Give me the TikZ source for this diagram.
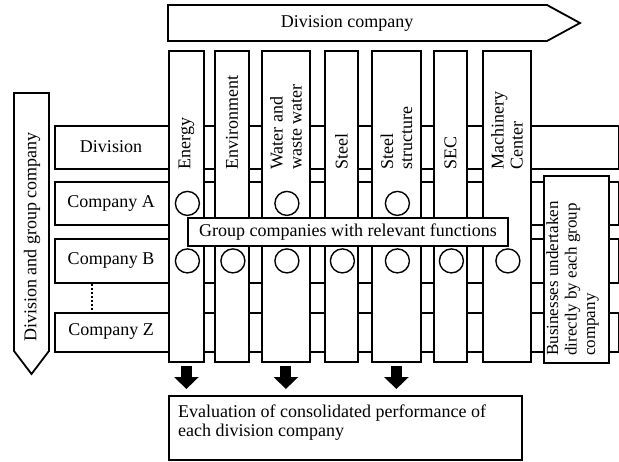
\documentclass[tikz,border=0pt]{standalone}
\usepackage{fontspec}
\setmainfont{Liberation Serif}
\usetikzlibrary{arrows.meta,calc}
\begin{document}
\begin{tikzpicture}[x=1pt,y=-1pt,
  lw/.style={line width=1.8pt},
  box/.style={draw, lw, fill=white, inner sep=0pt, rectangle},
  txt/.style={font=\fontsize{18}{19}\selectfont, inner sep=0pt, align=left},
  colbox/.style={box, anchor=north west, minimum height=311pt},
  rowbox/.style={box, anchor=north west, minimum width=564pt},
  coltxt/.style={txt, rotate=90, anchor=west},
  circ/.style={draw, circle, line width=1.4pt, minimum size=24pt, inner sep=0pt, fill=white},
  blockarrow/.style={line width=11pt, -{Triangle[width=24pt, length=12pt]}}
]
\useasboundingbox (0,0) rectangle (619,461);

% top arrow
\draw[lw, fill=white] (168,5) -- (547,5) -- (580,23) -- (547,41) -- (168,41) -- cycle;
\node[txt] (dc) at (347,23) {Division company};

% left arrow
\draw[lw, fill=white] (14,93) -- (49,93) -- (49,351) -- (31.5,374) -- (14,351) -- cycle;
\node[txt, rotate=90] (dg) at (32,237) {Division and group company};

% rows
\node[rowbox, minimum height=43pt] (rdiv) at (54,125) {};
\node[rowbox, minimum height=43pt] (rA) at (54,181) {};
\node[rowbox, minimum height=44pt] (rB) at (54,238) {};
\node[rowbox, minimum height=39pt] (rZ) at (54,312) {};
\node[txt] (tdiv) at (111,147) {Division};
\node[txt] (tA) at (111,203) {Company A};
\node[txt] (tB) at (111,260) {Company B};
\node[txt] (tZ) at (111,331.5) {Company Z};
\draw[line width=2pt, dash pattern=on 2pt off 2pt] ($(rB.south west)+(38,0)$) -- ($(rZ.north west)+(38,0)$);

% columns
\node[colbox, minimum width=35pt] (cE) at (168,50) {};
\node[colbox, minimum width=34pt] (cEn) at (214,50) {};
\node[colbox, minimum width=48pt] (cW) at (261,50) {};
\node[colbox, minimum width=33pt] (cS) at (324,50) {};
\node[colbox, minimum width=49pt] (cSS) at (371,50) {};
\node[colbox, minimum width=33pt] (cSEC) at (433,50) {};
\node[colbox, minimum width=48pt] (cM) at (482,50) {};

\node[coltxt] (tE) at (cE.north |- rdiv.south) {Energy};
\node[coltxt] (tEn) at (cEn.north |- rdiv.south) {Environment};
\node[coltxt] (tW) at (cW.north |- rdiv.south) {Water and\\waste water};
\node[coltxt] (tS) at (cS.north |- rdiv.south) {Steel};
\node[coltxt] (tSS) at (cSS.north |- rdiv.south) {Steel\\structure};
\node[coltxt] (tSEC) at (cSEC.north |- rdiv.south) {SEC};
\node[coltxt] (tM) at (cM.north |- rdiv.south) {Machinery\\Center};

% circles row A
\node[circ, xshift=1pt] (aE) at (cE.center |- rA.center) {};
\node[circ, xshift=1pt] (aW) at (cW.center |- rA.center) {};
\node[circ, xshift=1pt] (aSS) at (cSS.center |- rA.center) {};
% circles row B
\node[circ, xshift=1pt] (bE) at (cE.center |- rB.center) {};
\node[circ, xshift=1pt] (bEn) at (cEn.center |- rB.center) {};
\node[circ, xshift=1pt] (bW) at (cW.center |- rB.center) {};
\node[circ, xshift=1pt] (bS) at (cS.center |- rB.center) {};
\node[circ, xshift=1pt] (bSS) at (cSS.center |- rB.center) {};
\node[circ, xshift=1pt] (bSEC) at (cSEC.center |- rB.center) {};
\node[circ, xshift=1pt] (bM) at (cM.center |- rB.center) {};

% group companies box
\node[box, txt, minimum width=320pt, minimum height=28pt] (grp) at (348,232) {Group companies with relevant functions};

% businesses box
\node[box, anchor=north west, minimum width=65pt, minimum height=187pt] (bus) at (543,175) {};
\node[txt, font=\fontsize{17}{18.5}\selectfont, rotate=90, anchor=north west] (busT) at (546,356) {Businesses undertaken\\directly by each group\\company};

% evaluation box
\node[box, anchor=north west, minimum width=353pt, minimum height=64pt] (eval) at (168,395) {};
\node[txt, anchor=west] (evalT) at (178,423) {Evaluation of consolidated performance of\\each division company};

% block arrows
\draw[blockarrow] ([yshift=-3pt]cE.south) -- ([yshift=6pt]cE.south |- eval.north);
\draw[blockarrow] ([yshift=-3pt]cW.south) -- ([yshift=6pt]cW.south |- eval.north);
\draw[blockarrow] ([yshift=-3pt]cSS.south) -- ([yshift=6pt]cSS.south |- eval.north);
\end{tikzpicture}
\end{document}
